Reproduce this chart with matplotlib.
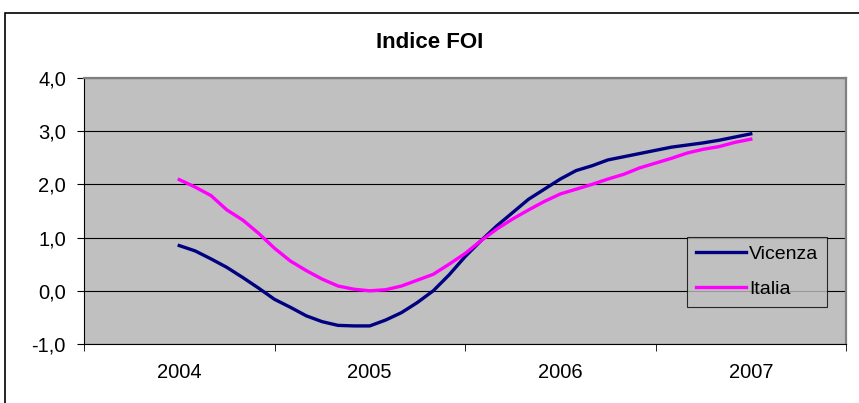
import matplotlib
matplotlib.use("Agg")
import matplotlib.pyplot as plt
from matplotlib.patches import Rectangle

plt.rcParams['font.family'] = ['Liberation Sans', 'DejaVu Sans']

# monthly values, Jan 2004 .. Jan 2007
vicenza = [0.85, 0.75, 0.60, 0.44, 0.25, 0.05, -0.16, -0.31, -0.47, -0.58,
           -0.65, -0.66, -0.66, -0.55, -0.41, -0.22, 0.0, 0.30, 0.64, 0.94,
           1.22, 1.47, 1.72, 1.91, 2.10, 2.26, 2.35, 2.46, 2.52, 2.58,
           2.64, 2.70, 2.74, 2.78, 2.83, 2.89, 2.95]
italia = [2.09, 1.95, 1.79, 1.52, 1.33, 1.08, 0.80, 0.56, 0.38, 0.22,
          0.09, 0.03, 0.0, 0.02, 0.09, 0.20, 0.31, 0.50, 0.70, 0.94,
          1.16, 1.35, 1.52, 1.68, 1.82, 1.91, 2.0, 2.10, 2.19, 2.31,
          2.40, 2.49, 2.59, 2.66, 2.71, 2.79, 2.85]
years = ["2004", "2005", "2006", "2007"]
y_ticks = [-1, 0, 1, 2, 3, 4]

months = list(range(len(vicenza)))

fig = plt.figure(figsize=(8.59, 4.03), dpi=100)
fig.patches.append(Rectangle((5 / 859, -0.1), 1.1, 1 - 13 / 403 + 0.1,
                             transform=fig.transFigure, fill=False,
                             edgecolor="black", linewidth=1.2))

ax = fig.add_axes([84 / 859, 1 - 344 / 403, (846 - 84) / 859, (344 - 78) / 403])
ax.set_facecolor("#C0C0C0")

ax.plot(months, vicenza, color="#000080", linewidth=2.4, label="Vicenza", zorder=3)
ax.plot(months, italia, color="#FF00FF", linewidth=2.4, label="Italia", zorder=3)

ax.set_xlim(-6, 42)
ax.set_ylim(-1, 4)
ax.set_yticks(y_ticks)
ax.set_yticklabels([f"{v:.1f}".replace(".", ",") for v in y_ticks], fontsize=14.5)
ax.yaxis.grid(True, color="black", linewidth=0.8)
ax.set_axisbelow(True)

ax.set_xticks([0, 12, 24, 36])
ax.set_xticklabels(years, fontsize=14.5)
ax.tick_params(axis="x", length=0, pad=14)
ax.set_xticks([-6, 6, 18, 30, 42], minor=True)
ax.tick_params(axis="x", which="minor", length=5, direction="out", color="black")
ax.tick_params(axis="y", length=5, direction="out", pad=8)

for side in ["top", "right"]:
    ax.spines[side].set_color("#808080")
    ax.spines[side].set_linewidth(1.6)
ax.spines["left"].set_color("black")
ax.spines["bottom"].set_color("black")

fig.text(0.5, 1 - 42 / 403, "Indice FOI", ha="center", va="center",
         fontsize=16, fontweight="bold")

leg = ax.legend(loc="lower right", bbox_to_anchor=(827 / 859, 1 - 307 / 403),
                bbox_transform=fig.transFigure, frameon=True, fancybox=False,
                fontsize=14, handlelength=2.6, borderpad=0.45, labelspacing=0.9,
                handletextpad=0.15, borderaxespad=0)
leg.get_frame().set_edgecolor("black")
leg.get_frame().set_facecolor("#C0C0C0")
leg.get_frame().set_linewidth(0.8)

fig.savefig("out.png", dpi=100)
